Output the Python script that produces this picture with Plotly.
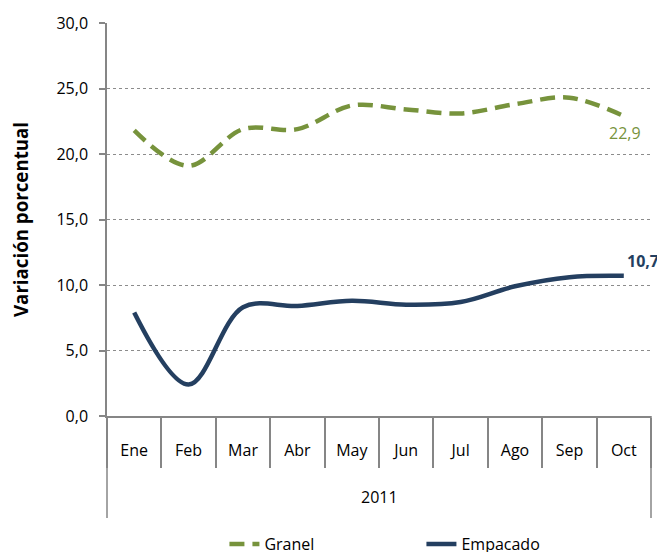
import plotly.graph_objects as go

year = "2011"
months = ["Ene", "Feb", "Mar", "Abr", "May", "Jun", "Jul", "Ago", "Sep", "Oct"]
granel = [21.8, 19.1, 21.9, 21.9, 23.7, 23.4, 23.1, 23.8, 24.3, 22.9]
empacado = [7.9, 2.4, 8.3, 8.4, 8.8, 8.5, 8.7, 9.9, 10.6, 10.7]

GREEN = "#77933C"
NAVY = "#243F60"
AXIS = "#868686"
FONT = "Open Sans"

fig = go.Figure()
fig.add_trace(go.Scatter(x=months, y=granel, name="Granel", mode="lines",
                         line=dict(color=GREEN, width=4.5, dash="15px,8px", shape="spline", smoothing=1)))
fig.add_trace(go.Scatter(x=months, y=empacado, name="Empacado", mode="lines",
                         line=dict(color=NAVY, width=4.5, shape="spline", smoothing=1)))

n = len(months)
xpos = (n - 1 + 0.5) / n
fig.add_annotation(x=xpos, xref="paper", y=granel[-1], yref="y", text="22,9", showarrow=False,
                   xanchor="center", yanchor="middle",
                   font=dict(color=GREEN, size=16, family=FONT), xshift=1, yshift=-17)
fig.add_annotation(x=xpos, xref="paper", y=empacado[-1], yref="y", text="<b>10,7</b>", showarrow=False,
                   xanchor="center", yanchor="middle",
                   font=dict(color=NAVY, size=16, family=FONT), xshift=19, yshift=15)

# figure sits 8px inside the page (body margin), so sizes are reduced by 8
W, H = 657, 544
ML, MT, MR, MB = 99, 15, 14, 136
plot_h = H - MT - MB

fig.add_annotation(x=0.5, xref="paper", y=-81 / plot_h, yref="paper", text=year,
                   xanchor="center", yanchor="middle",
                   showarrow=False, font=dict(size=16, family=FONT, color="black"))
for xp in (0, 1):
    fig.add_shape(type="line", xref="paper", yref="paper", x0=xp, x1=xp, y0=0,
                  y1=-102 / plot_h, line=dict(color=AXIS, width=1.5))

fig.update_layout(
    width=W, height=H,
    margin=dict(l=ML, r=MR, t=MT, b=MB, autoexpand=False),
    plot_bgcolor="white", paper_bgcolor="white",
    separators=",.",
    font=dict(family=FONT, size=16, color="black"),
    showlegend=True,
    legend=dict(orientation="h", x=0.578, xanchor="center", y=-128 / plot_h, yanchor="middle",
                font=dict(size=16, family=FONT), entrywidth=152, itemwidth=30),
    xaxis=dict(type="category", range=[-0.5, n - 0.5], showline=True, linecolor=AXIS, linewidth=1.5,
               ticks="outside", tickson="boundaries", ticklen=50, tickcolor=AXIS, tickwidth=1.5,
               ticklabelstandoff=19, showgrid=False, automargin=False,
               tickfont=dict(size=16, family=FONT)),
    yaxis=dict(range=[0, 30], dtick=5, tickformat=".1f", showline=True, linecolor=AXIS,
               linewidth=1.5, ticks="outside", ticklen=6, tickcolor=AXIS, tickwidth=1.5,
               ticklabelstandoff=8, automargin=False,
               showgrid=True, gridcolor="#8c8c8c", griddash="dot", gridwidth=1,
               zeroline=False,
               title=dict(text="<b>Variación porcentual</b>", font=dict(size=18.7, family=FONT), standoff=36),
               tickfont=dict(size=16, family=FONT)),
)

fig.write_html("out.html")
